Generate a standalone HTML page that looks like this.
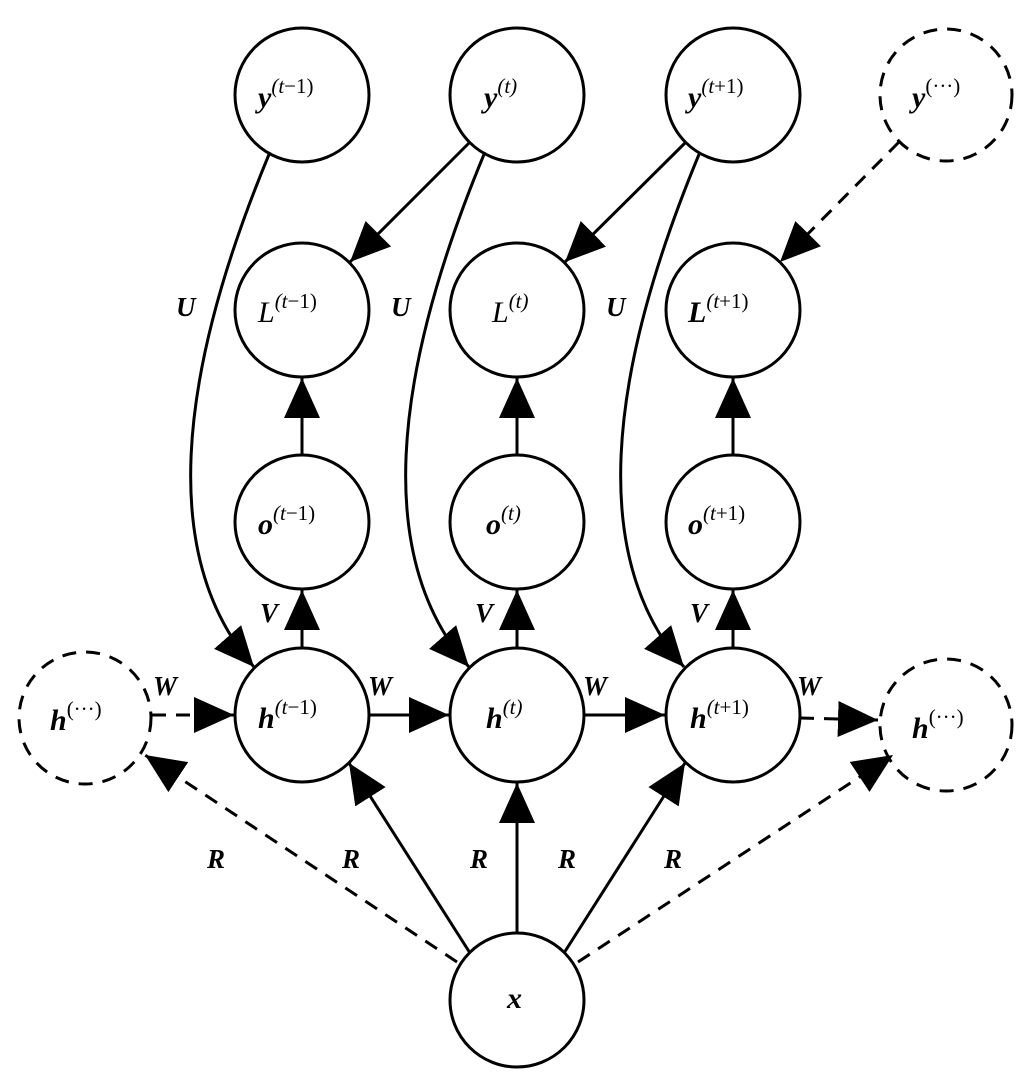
<!DOCTYPE html>
<html><head><meta charset="utf-8"><style>
html,body{margin:0;padding:0;background:#fff}
svg{display:block}
text{font-family:"Liberation Serif",serif;fill:#000}
.b{font-weight:bold;font-style:italic;font-size:30px}
.s{font-style:italic;font-size:21px}
.sn{font-size:21px}
.lab{font-weight:bold;font-style:italic;font-size:27px}
</style></head><body>
<svg width="1036" height="1072" viewBox="0 0 1036 1072" xmlns="http://www.w3.org/2000/svg">
<defs>
<marker id="a" markerUnits="userSpaceOnUse" markerWidth="44" markerHeight="40" refX="40" refY="18" orient="auto">
<path d="M0,0 L40,18 L0,36 Z" fill="#000"/>
</marker>
</defs>
<g fill="#fff" stroke="#000" stroke-width="3">
<circle cx="302" cy="95" r="67"/><circle cx="517" cy="95" r="67"/><circle cx="733" cy="95" r="67"/>
<circle cx="946" cy="95" r="66" stroke-dasharray="14 10"/>
<circle cx="302" cy="310" r="67"/><circle cx="517" cy="310" r="67"/><circle cx="733" cy="310" r="67"/>
<circle cx="302" cy="522" r="67"/><circle cx="517" cy="522" r="67"/><circle cx="733" cy="522" r="67"/>
<circle cx="85" cy="718" r="66" stroke-dasharray="14 10"/>
<circle cx="302" cy="715" r="67"/><circle cx="517" cy="715" r="67"/><circle cx="733" cy="715" r="67"/>
<circle cx="946" cy="725" r="66" stroke-dasharray="14 10"/>
<circle cx="517" cy="1000" r="67"/>
</g>
<g fill="none" stroke="#000" stroke-width="3" marker-end="url(#a)">
<path d="M470,142 L350,262"/>
<path d="M686,142 L565,262"/>
<path d="M899,142 L780,262" stroke-dasharray="14 10"/>
<path d="M302,455 L302,378"/>
<path d="M517,455 L517,378"/>
<path d="M733,455 L733,378"/>
<path d="M302,648 L302,590"/>
<path d="M517,648 L517,590"/>
<path d="M733,648 L733,590"/>
<path d="M152,715 L234,715" stroke-dasharray="14 10"/>
<path d="M369,715 L449,715"/>
<path d="M584,715 L665,715"/>
<path d="M800,718 L878,720" stroke-dasharray="14 10"/>
<path d="M517,933 L517,783"/>
<path d="M470,953 L349,763"/>
<path d="M564,953 L685,763"/>
<path d="M457,962 L145,755" stroke-dasharray="14 10"/>
<path d="M578,962 L893,755" stroke-dasharray="14 10"/>
<path d="M270,152 C175,380 160,560 254,667"/>
<path d="M485,152 C390,380 375,560 469,667"/>
<path d="M700,152 C605,380 590,560 684,667"/>
</g>
<g>
<text x="258" y="107"><tspan class="b">y</tspan><tspan class="s" dy="-14">(t</tspan><tspan class="sn">−1)</tspan></text>
<text x="484" y="107"><tspan class="b">y</tspan><tspan class="s" dy="-14">(t)</tspan></text>
<text x="688" y="107"><tspan class="b">y</tspan><tspan class="s" dy="-14">(t</tspan><tspan class="sn">+1)</tspan></text>
<text x="912" y="107"><tspan class="b">y</tspan><tspan class="sn" dy="-14">(···)</tspan></text>
<text x="258" y="322"><tspan style="font-style:italic;font-size:30px">L</tspan><tspan class="s" dy="-14">(t</tspan><tspan class="sn">−1)</tspan></text>
<text x="492" y="322"><tspan style="font-style:italic;font-size:30px">L</tspan><tspan class="s" dy="-14">(t)</tspan></text>
<text x="688" y="322"><tspan class="b">L</tspan><tspan class="s" dy="-14">(t</tspan><tspan class="sn">+1)</tspan></text>
<text x="258" y="534"><tspan class="b">o</tspan><tspan class="s" dy="-14">(t</tspan><tspan class="sn">−1)</tspan></text>
<text x="486" y="534"><tspan class="b">o</tspan><tspan class="s" dy="-14">(t)</tspan></text>
<text x="688" y="534"><tspan class="b">o</tspan><tspan class="s" dy="-14">(t</tspan><tspan class="sn">+1)</tspan></text>
<text x="258" y="728"><tspan class="b">h</tspan><tspan class="s" dy="-14">(t</tspan><tspan class="sn">−1)</tspan></text>
<text x="486" y="728"><tspan class="b">h</tspan><tspan class="s" dy="-14">(t)</tspan></text>
<text x="690" y="728"><tspan class="b">h</tspan><tspan class="s" dy="-14">(t</tspan><tspan class="sn">+1)</tspan></text>
<text x="50" y="730"><tspan class="b">h</tspan><tspan class="sn" dy="-14">(···)</tspan></text>
<text x="912" y="738"><tspan class="b">h</tspan><tspan class="sn" dy="-14">(···)</tspan></text>
<text x="507" y="1008" class="b">x</text>
</g>
<g class="lab">
<text x="176" y="316">U</text><text x="391" y="316">U</text><text x="606" y="316">U</text>
<text x="260" y="622">V</text><text x="475" y="622">V</text><text x="690" y="622">V</text>
<text x="153" y="695">W</text><text x="368" y="695">W</text><text x="583" y="695">W</text><text x="797" y="695">W</text>
<text x="207" y="868">R</text><text x="342" y="868">R</text><text x="470" y="868">R</text><text x="558" y="868">R</text><text x="664" y="868">R</text>
</g>
</svg>
</body></html>
